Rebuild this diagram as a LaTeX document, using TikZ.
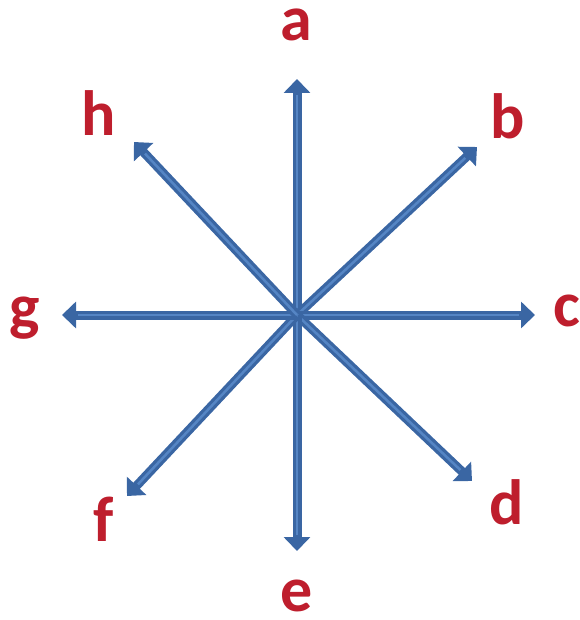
\documentclass[tikz,border=0pt]{standalone}
\usepackage{fontspec}
\setmainfont{Carlito}
\usepackage{xcolor}
\usetikzlibrary{arrows.meta}
\definecolor{spokeblue}{HTML}{3A66A3}
\definecolor{spokelight}{HTML}{5585C4}
\definecolor{letterred}{HTML}{BE1E2D}

\begin{document}
\begin{tikzpicture}[
  x=1pt,
  y=-1pt,
  spoke/.style={draw=spokeblue, line width=9pt, -{Triangle[width=26pt,length=14pt]},
    postaction={draw=spokelight, line width=2.5pt, arrows=-, shorten >=16pt}},
  letter/.style={text=letterred, font=\fontsize{64}{64}\selectfont\bfseries, anchor=base,
    inner sep=0pt, text height=0.5em, text depth=0pt}
]
\useasboundingbox (0,0) rectangle (579,620);
\coordinate (o) at (297,315);
% arrow tips
\coordinate (ta) at (297,79);
\coordinate (tb) at (477,147);
\coordinate (tc) at (535,315);
\coordinate (td) at (472,481);
\coordinate (te) at (297,551);
\coordinate (tf) at (127,496);
\coordinate (tg) at (62,315);
\coordinate (th) at (134,142);
\foreach \t in {ta,tb,tc,td,te,tf,tg,th}
  \draw[spoke] (o) -- (\t);
% labels
\node[letter] (la) at (296,41) {a};
\node[letter] (lb) at (508,139) {b};
\node[letter] (lc) at (567,326) {c};
\node[letter] (ld) at (507,524) {d};
\node[letter] (le) at (297,611) {e};
\node[letter] (lf) at (104,541) {f};
\node[letter] (lg) at (25,328) {g};
\node[letter] (lh) at (99,136) {h};
\end{tikzpicture}
\end{document}
